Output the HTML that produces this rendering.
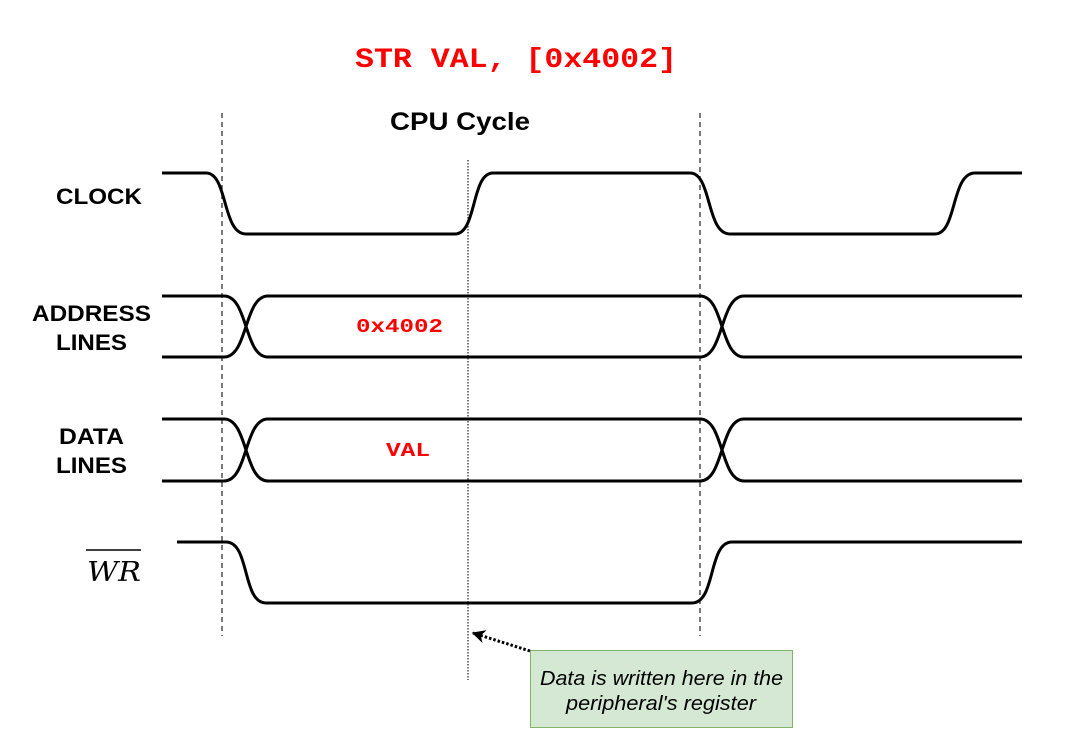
<!DOCTYPE html>
<html><head><meta charset="utf-8"><style>
html,body{margin:0;padding:0;background:#fff;}
svg{display:block;}
</style></head><body>
<svg width="1067" height="751" viewBox="0 0 1067 751" xmlns="http://www.w3.org/2000/svg">
<defs>
<marker id="ah" viewBox="0 0 10 10" refX="9" refY="5" markerWidth="4.5" markerHeight="4.5" orient="auto">
<path d="M0,0 L10,5 L0,10 L3,5 z" fill="#000"/>
</marker>
</defs>
<text x="355" y="67" textLength="322" lengthAdjust="spacingAndGlyphs" font-family="Liberation Mono, monospace" font-weight="bold" font-size="28" fill="#ff0000">STR VAL, [0x4002]</text>
<text x="390" y="130" textLength="140" lengthAdjust="spacingAndGlyphs" font-family="Liberation Sans, sans-serif" font-weight="bold" font-size="25" fill="#000">CPU Cycle</text>

<g stroke="#333" stroke-width="1.3" fill="none">
<line x1="222" y1="113" x2="222" y2="636" stroke-dasharray="5,4"/>
<line x1="700" y1="113" x2="700" y2="636" stroke-dasharray="5,4"/>
<line x1="468" y1="160" x2="468" y2="680" stroke-dasharray="1.5,1.5"/>
</g>

<g stroke="#000" stroke-width="3" fill="none" stroke-linejoin="round">
<path d="M162,173 H206 C228,173 222,234 246,234 H455 C477,234 471,173 493,173 H690 C712,173 706,234 730,234 H935 C957,234 951,173 975,173 H1022"/>
<path d="M162,296 H224 C248,296 244,357 268,357 H700 C724,357 720,296 744,296 H1022"/>
<path d="M162,357 H224 C248,357 244,296 268,296 H700 C724,296 720,357 744,357 H1022"/>
<path d="M162,419 H224 C248,419 244,481 268,481 H700 C724,481 720,419 744,419 H1022"/>
<path d="M162,481 H224 C248,481 244,419 268,419 H700 C724,419 720,481 744,481 H1022"/>
<path d="M177,542 H226 C250,542 242,603 266,603 H692 C716,603 708,542 732,542 H1022"/>
</g>

<g font-family="Liberation Sans, sans-serif" font-weight="bold" font-size="22" fill="#000">
<text x="56" y="204" textLength="86" lengthAdjust="spacingAndGlyphs">CLOCK</text>
<text x="32" y="321" textLength="119" lengthAdjust="spacingAndGlyphs">ADDRESS</text>
<text x="56" y="350" textLength="71" lengthAdjust="spacingAndGlyphs">LINES</text>
<text x="59" y="444" textLength="65" lengthAdjust="spacingAndGlyphs">DATA</text>
<text x="56" y="473" textLength="71" lengthAdjust="spacingAndGlyphs">LINES</text>
</g>
<text x="87" y="581" textLength="54" lengthAdjust="spacingAndGlyphs" font-family="DejaVu Serif, Liberation Serif, serif" font-style="italic" font-size="27" fill="#000">WR</text>
<line x1="86" y1="550" x2="141" y2="550" stroke="#000" stroke-width="1.5"/>

<g font-family="Liberation Mono, monospace" font-weight="bold" font-size="19" fill="#ff0000">
<text x="356" y="332" textLength="87" lengthAdjust="spacingAndGlyphs">0x4002</text>
<text x="386" y="456" textLength="44" lengthAdjust="spacingAndGlyphs">VAL</text>
</g>

<rect x="530.5" y="650.5" width="262" height="77" fill="#d5e8d4" stroke="#82b366" stroke-width="1"/>
<g font-family="Liberation Sans, sans-serif" font-style="italic" font-size="20" fill="#000">
<text x="540" y="685" textLength="243" lengthAdjust="spacingAndGlyphs">Data is written here in the</text>
<text x="566" y="710" textLength="190" lengthAdjust="spacingAndGlyphs">peripheral's register</text>
</g>
<line x1="530" y1="651" x2="473" y2="633" stroke="#000" stroke-width="3" stroke-dasharray="2.5,2" marker-end="url(#ah)"/>
</svg>
</body></html>
